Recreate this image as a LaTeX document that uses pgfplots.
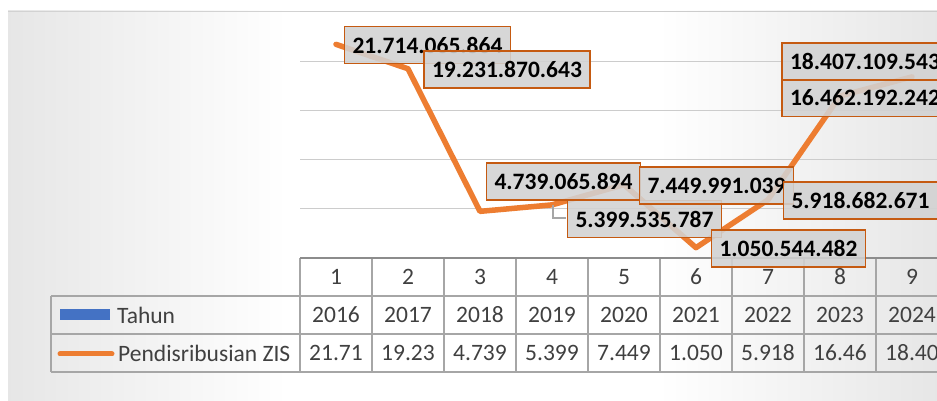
\documentclass[border=0pt]{standalone}
\usepackage{pgfplots}
\pgfplotsset{compat=1.18}
\usepackage{fontspec}
\setmainfont{Carlito}
\definecolor{zisorange}{HTML}{ED7D31}
\definecolor{lblborder}{HTML}{C55A11}
\definecolor{tahunblue}{HTML}{4472C4}
\definecolor{tabtext}{HTML}{404040}
\definecolor{tabline}{HTML}{A6A6A6}
\definecolor{bggray}{HTML}{BDBDBD}
\pgfdeclarehorizontalshading{chartbg}{100bp}{color(0bp)=(bggray); color(40bp)=(white); color(60bp)=(white); color(100bp)=(bggray)}
\pgfplotstableread{
x y
1 21.714065864
2 19.231870643
3 4.739065894
4 5.399535787
5 7.449991039
6 1.050544482
7 5.918682671
8 16.462192242
9 18.407109543
}\zisdata
\begin{document}
\begin{tikzpicture}
\begin{scope}[x=1bp,y=-1bp,yshift=401bp]
  \fill[white] (0,0) rectangle (937,401);
  \shade[shading=chartbg] (8,11) rectangle (937,401);
  \draw[gray!35, line width=0.8bp] (8,11) -- (937,11);
\end{scope}
\begin{axis}[
  at={(300bp,143bp)}, anchor=south west,
  scale only axis, width=648bp, height=246bp,
  xmin=0.5, xmax=9.5, ymin=0, ymax=25,
  axis line style={draw=none},
  xtick=\empty, ytick={5,10,15,20,25}, yticklabels={},
  major tick length=0pt,
  ymajorgrids, grid style={color=gray!40, line width=1bp},
  clip=false]
\addplot[zisorange, line width=5.5bp, line join=round, line cap=round] table[x=x,y=y] {\zisdata};
\end{axis}
\begin{scope}[x=1bp,y=-1bp,yshift=401bp,
  tabtxt/.style={text=tabtext, inner sep=0pt, font=\fontsize{23.5bp}{26bp}\selectfont},
  lbl/.style={draw=lblborder, line width=1.5bp, fill=gray!35, fill opacity=0.88, text opacity=1,
     text=black, inner xsep=8bp, inner ysep=0pt, minimum height=37bp,
     font=\bfseries\fontsize{23.5bp}{26bp}\selectfont}]
  % table
  \draw[tabline, line width=1.5bp] (51,296) -- (948,296);
  \draw[tabline, line width=1.5bp] (51,334) -- (948,334);
  \draw[tabline, line width=1.5bp] (51,372) -- (948,372);
  \draw[tabline, line width=1.5bp] (51,296) -- (51,372);
  \foreach \i in {0,...,8} {
    \draw[tabline, line width=1.5bp] (300+72*\i,258) -- (300+72*\i,372);
  }
  \draw[gray!90, line width=2.5bp] (300,258) -- (948,258);
  \foreach \i/\yr/\v in {1/2016/21.71, 2/2017/19.23, 3/2018/4.739, 4/2019/5.399, 5/2020/7.449, 6/2021/1.050, 7/2022/5.918, 8/2023/16.46, 9/2024/18.40} {
    \node[tabtxt] at (336+72*\i-72,277) {\i};
    \node[tabtxt] at (336+72*\i-72,315) {\yr};
    \node[tabtxt] at (336+72*\i-72,353) {\v};
  }
  % legend
  \fill[tahunblue] (60,309) rectangle (110,320);
  \node[tabtxt, anchor=west] at (117,315) {Tahun};
  \draw[zisorange, line width=5bp, line cap=round] (60,354) -- (112,354);
  \node[tabtxt, anchor=west] at (118,353) {Pendisribusian ZIS};
  % leader
  \draw[tabline, line width=1.2bp] (553,205) -- (553,218) -- (566,218);
  % data labels
  \node[lbl] at (427.5,45) {21.714.065.864};
  \node[lbl] at (507,69.5) {19.231.870.643};
  \node[lbl] at (563.5,181.5) {4.739.065.894};
  \node[lbl] at (644.5,219) {5.399.535.787};
  \node[lbl] at (716.5,185.5) {7.449.991.039};
  \node[lbl] at (788.5,248.5) {1.050.544.482};
  \node[lbl] at (860.5,200.5) {5.918.682.671};
  \node[lbl] at (865,98) {16.462.192.242};
  \node[lbl] at (865,61.5) {18.407.109.543};
\end{scope}
\pgfresetboundingbox
\path[use as bounding box] (0,0) rectangle (937bp,401bp);
\end{tikzpicture}
\end{document}
